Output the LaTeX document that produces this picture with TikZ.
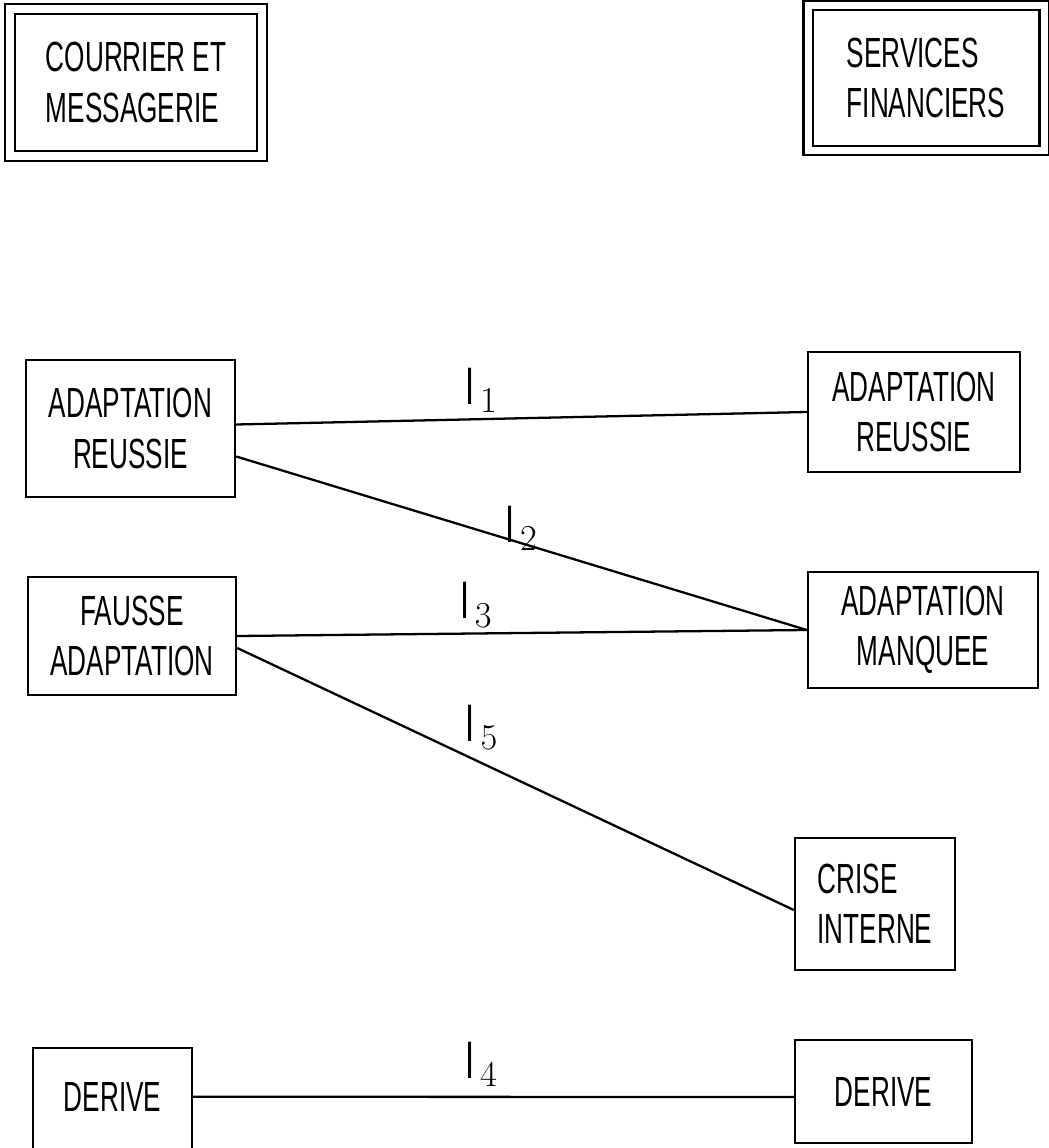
\documentclass[tikz,border=0pt]{standalone}
\usepackage{fontspec}
\setmainfont{Liberation Sans}[FakeStretch=0.62]
\usetikzlibrary{positioning,calc}
\tikzset{
 box/.style={draw,line width=1.4pt,align=center,inner sep=2pt,
             font=\fontsize{24}{28.5}\selectfont},
 dbox/.style={box,double,double distance=4pt,align=left},
 link/.style={line width=1.3pt},
 lab/.style={font=\fontsize{30}{32}\selectfont,inner sep=1pt}
}

\begin{document}
\begin{tikzpicture}
\useasboundingbox (0,0) rectangle (20.96,-22.96);
\node[dbox,minimum width=5.04cm,minimum height=2.94cm] (cme) at (2.72,-1.65) {COURRIER ET\\MESSAGERIE};
\node[dbox,minimum width=4.72cm,minimum height=2.9cm] (sf) at (18.52,-1.56) {SERVICES\\FINANCIERS};
\node[box,minimum width=4.18cm,minimum height=2.74cm] (arL) at (2.61,-8.57) {ADAPTATION\\REUSSIE};
\node[box,minimum width=4.16cm,minimum height=2.36cm] (faL) at (2.64,-12.72) {FAUSSE\\ADAPTATION};
\node[box,minimum width=3.18cm,text height=1.2cm,text depth=1.0cm,anchor=north] (derL) at (2.25,-20.94) {DERIVE};
\node[box,minimum width=4.24cm,minimum height=2.4cm] (arR) at (18.28,-8.24) {ADAPTATION\\REUSSIE};
\node[box,minimum width=4.6cm,minimum height=2.32cm] (amR) at (18.46,-12.6) {ADAPTATION\\MANQUEE};
\node[box,align=left,minimum width=3.2cm,minimum height=2.64cm] (ciR) at (17.5,-18.08) {CRISE\\INTERNE};
\node[box,minimum width=3.54cm,minimum height=2.06cm] (derR) at (17.67,-21.83) {DERIVE};
% influences
\draw[link] ([yshift=0.08cm]arL.east) -- (arR.west) node[lab,above=2pt,pos=0.43] {$\mathrm{I}_1$};
\draw[link] ([yshift=-0.56cm]arL.east) -- (amR.west) node[lab,pos=0.5,yshift=0.3cm] {$\mathrm{I}_2$};
\draw[link] (faL.east) -- (amR.west) node[lab,above=2pt,pos=0.42] {$\mathrm{I}_3$};
\draw[link] ([yshift=-0.24cm]faL.east) -- ([yshift=-0.12cm]ciR.west) node[lab,above=6pt,pos=0.44] {$\mathrm{I}_5$};
\draw[link] ([yshift=0.2cm]derL.east) -- ([yshift=-0.11cm]derR.west) node[lab,above=4pt,pos=0.48] {$\mathrm{I}_4$};
\end{tikzpicture}
\end{document}
